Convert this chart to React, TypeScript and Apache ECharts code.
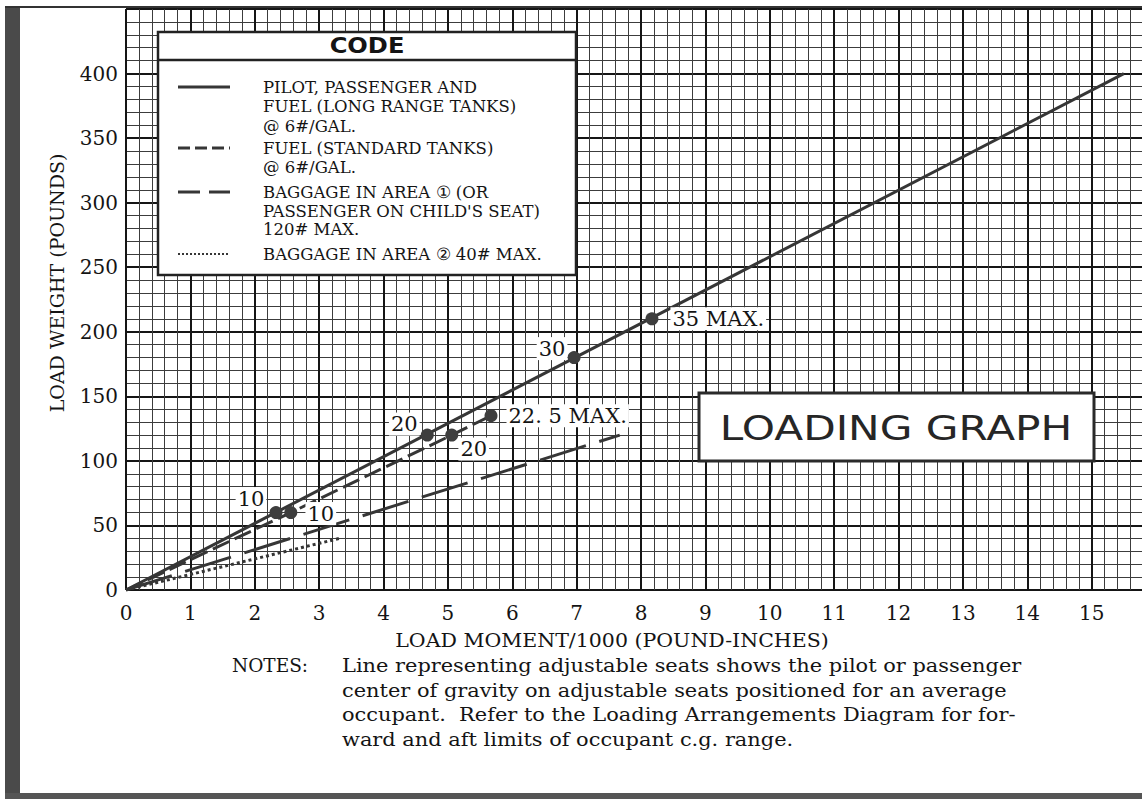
import React, { useEffect, useRef } from 'react';
import * as echarts from 'echarts';

// ---- axis ticks ----
const xTickValues = [0, 1, 2, 3, 4, 5, 6, 7, 8, 9, 10, 11, 12, 13, 14, 15];
const yTickValues = [0, 50, 100, 150, 200, 250, 300, 350, 400];

// ---- pilot, passenger and fuel (long range tanks) ----
const pilotLineMoment = [0, 15.5];
const pilotLineWeight = [0, 400];
const longFuelLabels = ['10', '20', '30', '35 MAX.'];
const longFuelMoment = [2.33, 4.68, 6.96, 8.17];
const longFuelWeight = [60, 120, 180, 210];

// ---- fuel (standard tanks) ----
const stdFuelLabels = ['10', '20', '22. 5 MAX.'];
const stdFuelMoment = [2.56, 5.06, 5.67];
const stdFuelWeight = [60, 120, 135];

// ---- baggage ----
const baggage1Moment = [0, 7.67];
const baggage1Weight = [0, 120];
const baggage2Moment = [0, 3.32];
const baggage2Weight = [0, 40];

// ---- texts ----
const legendTitle = 'CODE';
const legendRows = [
  'PILOT, PASSENGER AND',
  'FUEL (LONG RANGE TANKS)',
  '@ 6#/GAL.',
  'FUEL (STANDARD TANKS)',
  '@ 6#/GAL.',
  'BAGGAGE IN AREA \u2460 (OR',
  "PASSENGER ON CHILD'S SEAT)",
  '120# MAX.',
  'BAGGAGE IN AREA \u2461 40# MAX.',
];
const noteLines = [
  'Line representing adjustable seats shows the pilot or passenger',
  'center of gravity on adjustable seats positioned for an average',
  'occupant.  Refer to the Loading Arrangements Diagram for for-',
  'ward and aft limits of occupant c.g. range.',
];

const SERIF = 'DejaVu Serif';
const SANS = 'DejaVu Sans';
const INK = '#141414';
const LINE = '#363636';

const legendRowY = [87, 106, 126, 148, 167, 192, 211, 229, 254];
const noteY = [665, 690, 714, 739];

const longLabelStyle: any[] = [
  { position: 'inside', offset: [-25, -14] },
  { position: 'inside', offset: [-23, -11] },
  { position: 'inside', offset: [-22, -9] },
  { position: 'right', distance: 12 },
];
const stdLabelStyle: any[] = [
  { position: 'inside', offset: [30, 1] },
  { position: 'inside', offset: [22, 14] },
  { position: 'right', distance: 9 },
];

function zip(a: number[], b: number[]) {
  return a.map((v, i) => [v, b[i]]);
}

function txt(text: string, x: number, y: number, size: number, family: string, extra: any = {}) {
  return {
    type: 'text',
    x,
    y,
    z: 100,
    scaleX: extra.scaleX || 1,
    style: {
      text,
      fill: extra.fill || INK,
      fontSize: size,
      fontFamily: family,
      textAlign: extra.align || 'left',
      align: extra.align || 'left',
      textVerticalAlign: 'middle',
      verticalAlign: 'middle',
      fontWeight: extra.weight || 'normal',
    },
    rotation: extra.rotation || 0,
  };
}

export default function App() {
  const ref = useRef<HTMLDivElement>(null);

  useEffect(() => {
    if (!ref.current) return;
    const chart = echarts.init(ref.current, null, { renderer: 'svg' });

    const markerLabel = (styleCfg: any) => ({
      show: true,
      fontSize: 21,
      fontFamily: SERIF,
      color: INK,
      backgroundColor: '#fff',
      padding: [1, 2],
      align: 'center',
      verticalAlign: 'middle',
      ...styleCfg,
      ...(styleCfg.position === 'right' ? { align: 'left' } : {}),
    });

    const legendSample = (y: number, dash: any, width: number) => ({
      type: 'line',
      z: 101,
      shape: { x1: 178, y1: y, x2: 230, y2: y },
      style: { stroke: LINE, lineWidth: width, lineDash: dash },
    });

    const graphic: any[] = [
      // page frame
      { type: 'rect', z: 100, shape: { x: 5, y: 8, width: 15, height: 791 }, style: { fill: '#4a4a4a' } },
      { type: 'rect', z: 100, shape: { x: 5, y: 6, width: 1137, height: 2 }, style: { fill: '#333' } },
      { type: 'rect', z: 100, shape: { x: 5, y: 793, width: 1137, height: 6 }, style: { fill: '#555' } },
      // legend box
      {
        type: 'rect',
        z: 100,
        shape: { x: 158, y: 32, width: 418, height: 243 },
        style: { fill: '#fff', stroke: '#222', lineWidth: 2.5 },
      },
      {
        type: 'line',
        z: 101,
        shape: { x1: 158, y1: 60, x2: 576, y2: 60 },
        style: { stroke: '#222', lineWidth: 2.5 },
      },
      txt(legendTitle, 367, 46, 21, SANS, { align: 'center', weight: 'bold', scaleX: 1.15 }),
      legendSample(87, null, 3),
      legendSample(148, [12, 5], 3),
      legendSample(192, [22, 9], 3),
      legendSample(254, [2, 2], 2),
      ...legendRows.map((t, i) => txt(t, 263, legendRowY[i], 16.5, SERIF)),
      // loading graph box
      {
        type: 'rect',
        z: 100,
        shape: { x: 699, y: 393, width: 395, height: 68 },
        style: { fill: '#fff', stroke: '#2a2a2a', lineWidth: 3 },
      },
      txt('LOADING GRAPH', 896, 429, 33, SANS, { align: 'center', scaleX: 1.28, fill: '#262626' }),
      // axis titles
      txt('LOAD MOMENT/1000 (POUND-INCHES)', 612, 641, 19, SERIF, { align: 'center', scaleX: 1.08 }),
      txt('LOAD WEIGHT (POUNDS)', 57, 283, 19, SERIF, { align: 'center', rotation: Math.PI / 2 }),
      // notes
      txt('NOTES:', 232, noteY[0], 18.5, SERIF),
      ...noteLines.map((t, i) => txt(t, 342, noteY[i], 19, SERIF, { scaleX: 1.1 })),
    ];

    const option: any = {
      animation: false,
      backgroundColor: '#fff',
      grid: { left: 126, top: 9, right: 4, bottom: 209, containLabel: false },
      xAxis: {
        type: 'value',
        min: 0,
        max: 16,
        interval: 1,
        axisLine: { show: false },
        axisTick: { show: false },
        axisLabel: {
          margin: 13,
          fontSize: 20,
          fontFamily: SERIF,
          color: INK,
          formatter: (v: number) => (xTickValues.includes(v) ? String(v) : ''),
        },
        splitLine: { show: true, lineStyle: { color: '#151515', width: 2 } },
        minorTick: { show: false, splitNumber: 5 },
        minorSplitLine: { show: true, lineStyle: { color: '#3c3c3c', width: 1 } },
      },
      yAxis: {
        type: 'value',
        min: 0,
        max: 450,
        interval: 50,
        axisLine: { show: false },
        axisTick: { show: false },
        axisLabel: {
          margin: 8,
          fontSize: 20,
          fontFamily: SERIF,
          color: INK,
          formatter: (v: number) => (yTickValues.includes(v) ? String(v) : ''),
        },
        splitLine: { show: true, lineStyle: { color: '#151515', width: 2 } },
        minorTick: { show: false, splitNumber: 5 },
        minorSplitLine: { show: true, lineStyle: { color: '#3c3c3c', width: 1 } },
      },
      graphic,
      series: [
        {
          name: 'PILOT, PASSENGER AND FUEL (LONG RANGE TANKS)',
          type: 'line',
          symbol: 'none',
          z: 5,
          data: zip(pilotLineMoment, pilotLineWeight),
          lineStyle: { color: LINE, width: 3 },
        },
        {
          name: 'FUEL (STANDARD TANKS)',
          type: 'line',
          symbol: 'none',
          z: 4,
          data: zip([0, ...stdFuelMoment], [0, ...stdFuelWeight]),
          lineStyle: { color: LINE, width: 3, type: [18, 6] },
        },
        {
          name: 'BAGGAGE IN AREA 1',
          type: 'line',
          symbol: 'none',
          z: 4,
          data: zip(baggage1Moment, baggage1Weight),
          lineStyle: { color: LINE, width: 3, type: [48, 14] },
        },
        {
          name: 'BAGGAGE IN AREA 2',
          type: 'line',
          symbol: 'none',
          z: 4,
          data: zip(baggage2Moment, baggage2Weight),
          lineStyle: { color: LINE, width: 3, type: [3, 3] },
        },
        {
          name: 'Long range fuel gallons',
          type: 'scatter',
          z: 10,
          symbolSize: 13,
          itemStyle: { color: '#3e3e3e', opacity: 1 },
          data: longFuelMoment.map((m, i) => ({
            value: [m, longFuelWeight[i]],
            label: markerLabel({ ...longLabelStyle[i], formatter: longFuelLabels[i] }),
          })),
        },
        {
          name: 'Standard fuel gallons',
          type: 'scatter',
          z: 10,
          symbolSize: 13,
          itemStyle: { color: '#3e3e3e', opacity: 1 },
          data: stdFuelMoment.map((m, i) => ({
            value: [m, stdFuelWeight[i]],
            label: markerLabel({ ...stdLabelStyle[i], formatter: stdFuelLabels[i] }),
          })),
        },
      ],
    };

    chart.setOption(option);
    return () => chart.dispose();
  }, []);

  return (
    <div
      style={{
        position: 'absolute',
        left: 0,
        top: 0,
        width: 1142,
        height: 799,
        overflow: 'hidden',
        background: '#fff',
      }}
    >
      <div ref={ref} style={{ width: 1160, height: 799 }} />
    </div>
  );
}
